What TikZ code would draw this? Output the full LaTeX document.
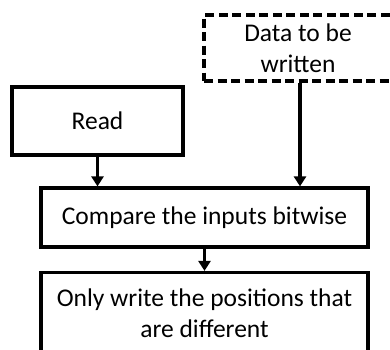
\documentclass[tikz,border=0pt]{standalone}
\usepackage{fontspec}
\setmainfont{Carlito}
\usetikzlibrary{arrows.meta}
\begin{document}
\begin{tikzpicture}[x=1pt,y=-1pt,
  box/.style={draw,line width=3.2pt,align=center,font=\fontsize{25.5}{31}\selectfont,inner sep=0pt},
  conn/.style={line width=3.2pt,-{Triangle[length=10pt,width=12pt]}}]
\useasboundingbox (0,0) rectangle (390,349);
\clip (0,0) rectangle (390,349);
\fill[white] (0,0) rectangle (390,349);
\node[box,dash pattern=on 9pt off 4.5pt,minimum width=188pt,minimum height=66pt] (data) at (298,48) {Data to be\\written};
\node[box,minimum width=171pt,minimum height=68pt] (read) at (97.5,121) {Read};
\node[box,minimum width=327pt,minimum height=59pt] (cmp) at (204.5,217.5) {Compare the inputs bitwise};
\node[box,minimum width=327pt,minimum height=82pt] (out) at (204.5,313.5) {Only write the positions that\\are different};
\draw[conn] (read.south) -- (read.south |- cmp.north);
\draw[conn] ([xshift=2pt]data.south) -- ([xshift=2pt]data.south |- cmp.north);
\draw[conn] (cmp.south) -- (out.north);
\end{tikzpicture}
\end{document}
